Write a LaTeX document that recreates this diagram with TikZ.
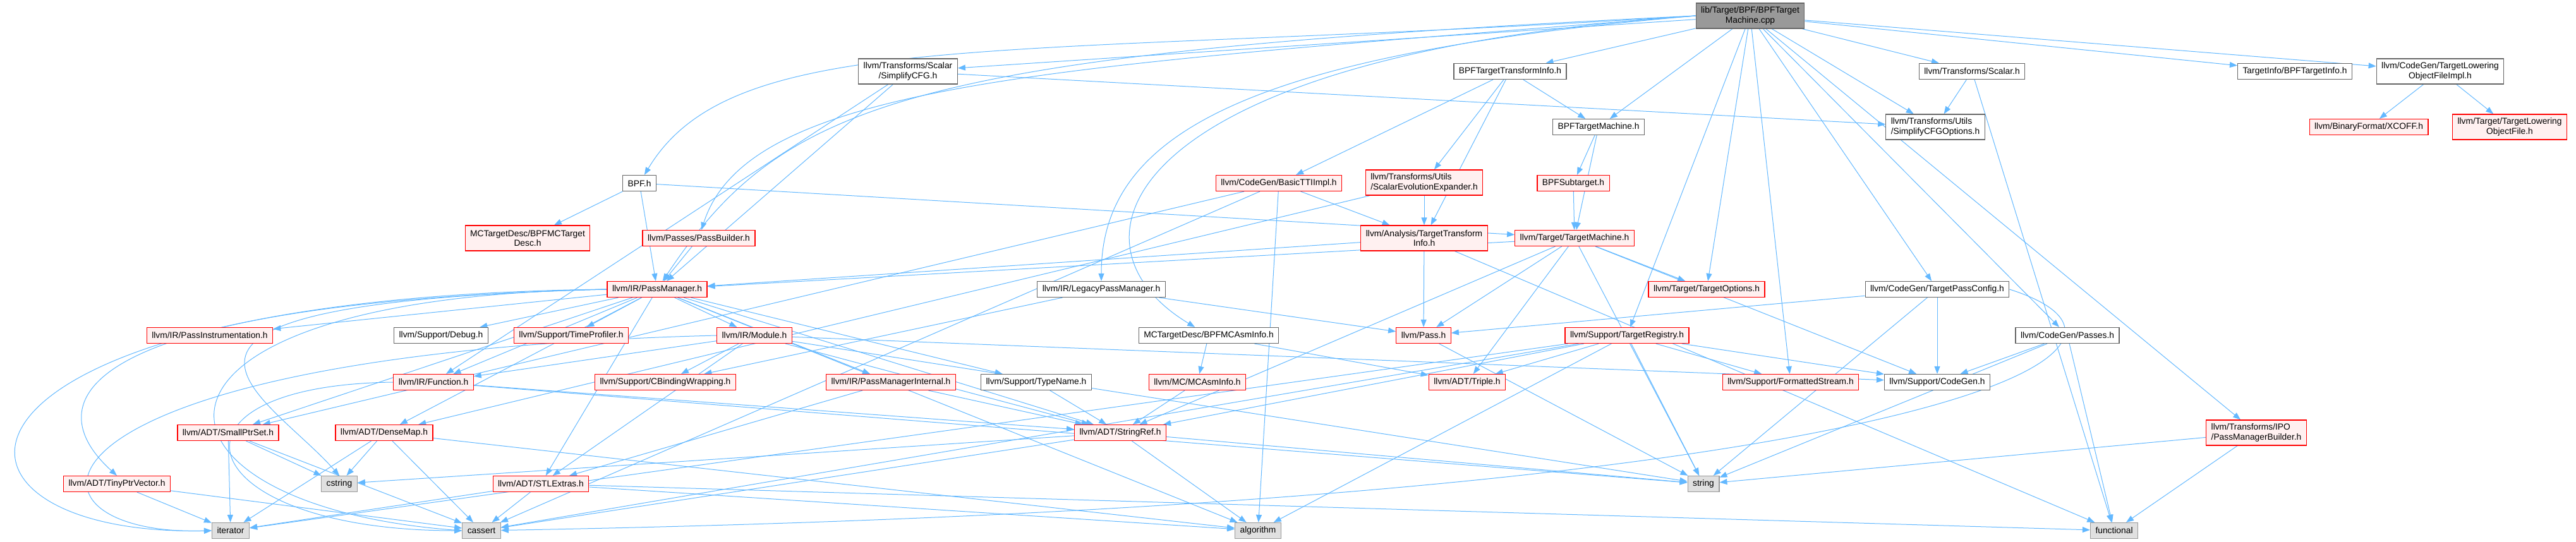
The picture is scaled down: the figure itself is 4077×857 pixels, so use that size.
\documentclass[tikz,border=0pt]{standalone}
\usepackage{fontspec}
\setmainfont{Liberation Sans}
\usetikzlibrary{arrows.meta,backgrounds}
\definecolor{linkblue}{HTML}{63B8FF}
\definecolor{frame}{HTML}{666666}
\definecolor{rootfill}{HTML}{999999}
\definecolor{sysfill}{HTML}{E0E0E0}
\definecolor{sysframe}{HTML}{999999}
\definecolor{warnfill}{HTML}{FFF0F0}
\definecolor{warnframe}{HTML}{FF0000}
\newcommand{\incfont}{\fontsize{13.8}{15.5}\selectfont}

\begin{document}
\begin{tikzpicture}[x=1pt,y=1pt,>={Triangle[length=12pt,width=9pt]},
    hdr/.style={draw=frame, fill=white, line width=1.2pt, font=\incfont,
      inner xsep=8pt, inner ysep=4pt, minimum height=25pt, align=center},
    hdrred/.style={hdr, draw=warnframe, fill=warnfill},
    hdrsys/.style={hdr, draw=sysframe, fill=sysfill},
    hdrroot/.style={hdr, draw=frame, fill=rootfill},
    two/.style={minimum height=40pt},
    inc/.style={->, draw=linkblue, line width=1pt}]
  \useasboundingbox (0,0) rectangle (4077,-857);

  % the file itself
  \node[hdrroot, two] (root) at (2770,-25) {lib/Target/BPF/BPFTarget\\Machine.cpp};

  % direct includes and their children, row by row
  \node[hdr, two] (scfg) at (1437,-113) {llvm/Transforms/Scalar\\/SimplifyCFG.h};
  \node[hdr] (btti) at (2390,-113) {BPFTargetTransformInfo.h};
  \node[hdr] (scalar) at (3121,-113) {llvm/Transforms/Scalar.h};
  \node[hdr] (tinfo) at (3632,-113) {TargetInfo/BPFTargetInfo.h};
  \node[hdr, two] (tlofimpl) at (3862,-113) {llvm/CodeGen/TargetLowering\\ObjectFileImpl.h};

  \node[hdr] (btm) at (2530,-201) {BPFTargetMachine.h};
  \node[hdr, two, align=left] (scfgopt) at (3063,-201) {llvm/Transforms/Utils\\/SimplifyCFGOptions.h};
  \node[hdrred] (xcoff) at (3749,-201) {llvm/BinaryFormat/XCOFF.h};
  \node[hdrred, two] (tlof) at (3972,-201) {llvm/Target/TargetLowering\\ObjectFile.h};

  \node[hdr] (bpfh) at (1012,-290) {BPF.h};
  \node[hdrred] (bttiimpl) at (2024,-290) {llvm/CodeGen/BasicTTIImpl.h};
  \node[hdrred, two, align=left] (scev) at (2254,-289) {llvm/Transforms/Utils\\/ScalarEvolutionExpander.h};
  \node[hdrred] (subtgt) at (2490,-290) {BPFSubtarget.h};

  \node[hdrred, two] (mcdesc) at (835,-377) {MCTargetDesc/BPFMCTarget\\Desc.h};
  \node[hdrred] (pbuilder) at (1106,-377) {llvm/Passes/PassBuilder.h};
  \node[hdrred, two] (tti) at (2254,-377) {llvm/Analysis/TargetTransform\\Info.h};
  \node[hdrred] (tm) at (2492,-377) {llvm/Target/TargetMachine.h};

  \node[hdrred] (pm) at (1040,-458) {llvm/IR/PassManager.h};
  \node[hdr] (legacy) at (1743,-458) {llvm/IR/LegacyPassManager.h};
  \node[hdrred] (topts) at (2701,-458) {llvm/Target/TargetOptions.h};
  \node[hdr] (tpc) at (3066,-458) {llvm/CodeGen/TargetPassConfig.h};

  \node[hdrred] (pinstr) at (332,-531) {llvm/IR/PassInstrumentation.h};
  \node[hdr] (debug) at (698,-531) {llvm/Support/Debug.h};
  \node[hdrred] (timeprof) at (904,-531) {llvm/Support/TimeProfiler.h};
  \node[hdrred] (module) at (1194,-531) {llvm/IR/Module.h};
  \node[hdr] (mcasm) at (1913,-531) {MCTargetDesc/BPFMCAsmInfo.h};
  \node[hdrred] (pass) at (2253,-531) {llvm/Pass.h};
  \node[hdrred] (treg) at (2575,-531) {llvm/Support/TargetRegistry.h};
  \node[hdr] (cgpasses) at (3272,-531) {llvm/CodeGen/Passes.h};

  \node[hdrred] (func) at (686,-605) {llvm/IR/Function.h};
  \node[hdrred] (cbind) at (1053,-605) {llvm/Support/CBindingWrapping.h};
  \node[hdrred] (pmint) at (1410,-605) {llvm/IR/PassManagerInternal.h};
  \node[hdr] (typename) at (1640,-605) {llvm/Support/TypeName.h};
  \node[hdrred] (mcasminfo) at (1895,-605) {llvm/MC/MCAsmInfo.h};
  \node[hdrred] (triple) at (2322,-605) {llvm/ADT/Triple.h};
  \node[hdrred] (fstream) at (2834,-605) {llvm/Support/FormattedStream.h};
  \node[hdr] (codegen) at (3066,-605) {llvm/Support/CodeGen.h};

  \node[hdrred] (smallptr) at (361,-685) {llvm/ADT/SmallPtrSet.h};
  \node[hdrred] (densemap) at (608,-685) {llvm/ADT/DenseMap.h};
  \node[hdrred] (stringref) at (1773,-685) {llvm/ADT/StringRef.h};
  \node[hdrred, two, align=left] (pmb) at (3571,-685) {llvm/Transforms/IPO\\/PassManagerBuilder.h};

  \node[hdrred] (tinyptr) at (185,-766) {llvm/ADT/TinyPtrVector.h};
  \node[hdrsys] (cstring) at (537,-766) {cstring};
  \node[hdrred] (stlextras) at (856,-766) {llvm/ADT/STLExtras.h};
  \node[hdrsys] (string) at (2696,-766) {string};

  \node[hdrsys] (iterator) at (365,-840) {iterator};
  \node[hdrsys] (cassert) at (762,-840) {cassert};
  \node[hdrsys] (algorithm) at (1991,-840) {algorithm};
  \node[hdrsys] (functional) at (3346,-840) {functional};

  \begin{scope}[on background layer]
    % includes of the .cpp
    \foreach \t in {scfg,btti,btm,scalar,scfgopt,tinfo,tlofimpl,topts,treg,fstream,tpc,cgpasses,pmb}
      \draw[inc] (root) -- (\t);
    \draw[inc] (root.west) .. controls +(-1100,-70) and +(150,250) .. (bpfh);
    \draw[inc] (root.west) .. controls +(-1000,-80) and +(80,250) .. (pbuilder);
    \draw[inc] (root.west) .. controls +(-1250,-60) and +(200,300) .. (pm);
    \draw[inc] (root.west) .. controls +(-700,-60) and +(0,250) .. (legacy);
    \draw[inc] (root.west) .. controls +(-900,-60) and +(-250,150) .. (mcasm);
    \draw[inc] (tpc.east) .. controls (3500,-560) and (3000,-800) .. (cassert);

    % long arcs round the left side
    \draw[inc] (pm.west) .. controls (-150,-470) and (-150,-850) .. (iterator.west);
    \draw[inc] (pm.west) .. controls (100,-480) and (60,-640) .. (tinyptr.north);
    \draw[inc] (pm.west) .. controls (120,-480) and (420,-620) .. (cstring.north);
    \draw[inc] (pm.west) .. controls (150,-470) and (200,-800) .. (cassert.west);
    \draw[inc] (module.west) .. controls (0,-560) and (0,-850) .. (iterator.west);
    \draw[inc] (func.west) .. controls (230,-610) and (300,-840) .. (cassert.west);

    % everything below
    \foreach \s/\t in {bpfh/mcdesc,bpfh/pm,bpfh/tm,
        btti/btm,btti/tti,btti/bttiimpl,btti/scev,
        btm/subtgt,btm/tm,subtgt/tm,
        scfg/pm,scfg/func,scfg/scfgopt,
        scalar/scfgopt,scalar/functional,
        tlofimpl/xcoff,tlofimpl/tlof,pbuilder/pm,
        bttiimpl/tti,bttiimpl/smallptr,bttiimpl/algorithm,bttiimpl/cassert,
        scev/tti,scev/densemap,
        tti/pm,tti/pass,tti/functional,
        tm/pm,tm/pass,tm/triple,tm/stringref,tm/string,tm/codegen,tm/topts,
        legacy/pass,legacy/cbind,
        mcasm/mcasminfo,mcasm/triple,mcasminfo/stringref,
        tpc/pass,tpc/codegen,tpc/string,
        cgpasses/codegen,cgpasses/string,cgpasses/functional,
        treg/triple,treg/stringref,treg/algorithm,treg/cassert,treg/iterator,
        treg/string,treg/codegen,treg/fstream,
        pmb/string,pmb/functional,
        pm/densemap,pm/stlextras,pm/smallptr,pm/stringref,pm/func,
        pm/module,pm/pinstr,pm/pmint,pm/debug,pm/timeprof,pm/typename,
        pm/algorithm,
        module/func,module/cbind,module/stlextras,module/stringref,
        module/codegen,module/string,
        func/stringref,func/string,
        pmint/stringref,pmint/stlextras,typename/stringref,pass/string,
        stringref/algorithm,stringref/cassert,stringref/cstring,stringref/string,
        stlextras/algorithm,stlextras/cassert,stlextras/functional,stlextras/iterator,
        smallptr/cassert,smallptr/cstring,smallptr/iterator,
        densemap/algorithm,densemap/cassert,densemap/cstring,densemap/iterator,
        tinyptr/cassert,tinyptr/iterator}
      \draw[inc] (\s) -- (\t);
  \end{scope}
\end{tikzpicture}
\end{document}
